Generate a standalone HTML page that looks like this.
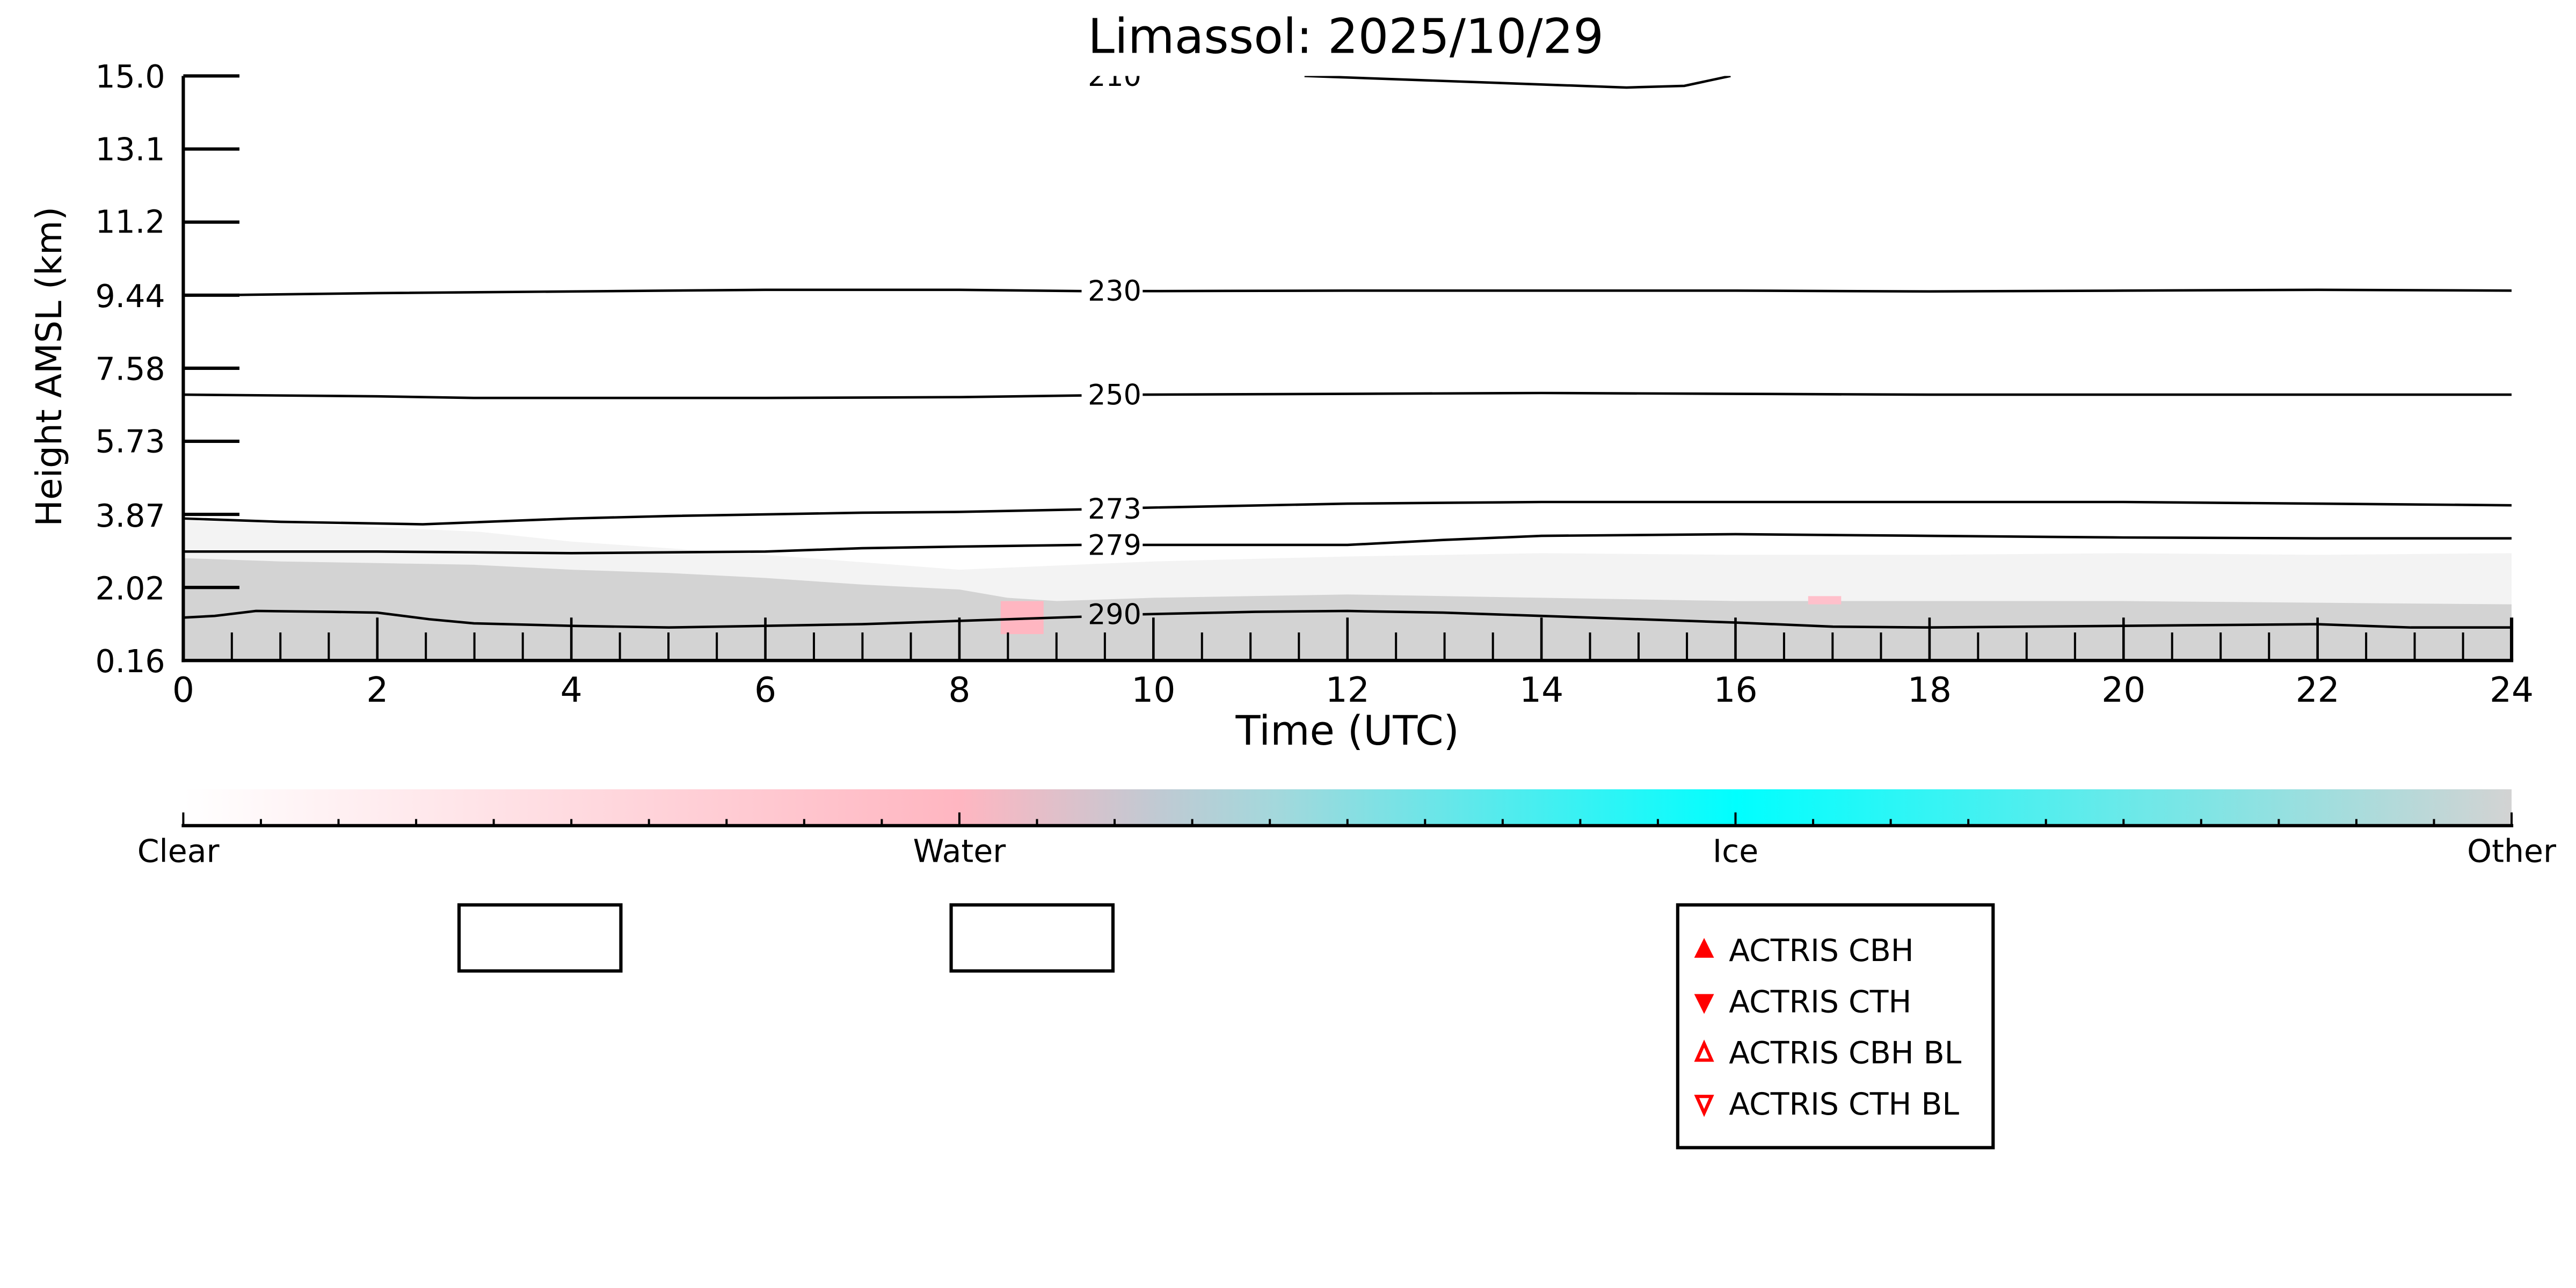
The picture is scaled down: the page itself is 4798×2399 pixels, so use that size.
<!DOCTYPE html>
<html><head><meta charset="utf-8"><style>html,body{margin:0;padding:0;background:#fff}svg{display:block}</style></head>
<body>
<svg width="4798" height="2399" viewBox="0 0 1560 780" preserveAspectRatio="none" xmlns="http://www.w3.org/2000/svg" font-family="DejaVu Sans, Liberation Sans, sans-serif">
<defs>
<linearGradient id="cb" x1="0" x2="1" y1="0" y2="0">
<stop offset="0" stop-color="#ffffff"/>
<stop offset="0.333" stop-color="#ffb6c1"/>
<stop offset="0.42" stop-color="#bfcad3"/>
<stop offset="0.47" stop-color="#a3d8dc"/>
<stop offset="0.667" stop-color="#00ffff"/>
<stop offset="1" stop-color="#d3d3d3"/>
</linearGradient>
<clipPath id="pc"><rect x="111" y="46" width="1410" height="354"/></clipPath>
</defs>
<text x="815" y="32" font-size="29" text-anchor="middle">Limassol: 2025/10/29</text>
<g clip-path="url(#pc)">
<polygon fill="#f3f3f3" points="111,315 200,318 290,322 346,328 463.5,336 581,345 698.5,340 816,337 933.5,335 1051,336 1168.5,336 1286,335 1403.5,336 1521,335 1521,400 111,400"/>
<polygon fill="#d3d3d3" points="111,338 170,340 228.5,341 287,342 346,345 405,347 463.5,350 522,354 581,357 610,362 640,364 698.5,362 816,360 933.5,362 1051,364 1168.5,364 1286,364 1403.5,365 1521,366 1521,400 111,400"/>
<rect x="606" y="364" width="26" height="20" fill="#ffb6c1"/>
<rect x="1095" y="361" width="20" height="5" fill="#ffc0cb"/>
<g fill="none" stroke="#000" stroke-width="1.5">
<polyline points="111,179 228.5,177.5 463.5,175.5 581,175.5 655,176.3"/>
<polyline points="692,176.3 816,176 1051,176 1168.5,176.5 1286,176 1403.5,175.5 1521,176"/>
<polyline points="111,239 228.5,240 287,241 463.5,241 581,240.5 655,239.5"/>
<polyline points="692,239 816,238.5 933.5,238 1051,238.5 1168.5,239 1521,239"/>
<polyline points="111,314 170,316 256,317.5 346,314 405,312.5 522,310.5 581,310 655,308.5"/>
<polyline points="692,307.5 816,305 933.5,304 1051,304 1168.5,304 1286,304 1403.5,305 1521,306"/>
<polyline points="111,334 228.5,334 346,335 463.5,334 522,332 581,331 655,330"/>
<polyline points="692,330 816,330 874,327 933.5,324.5 1051,323.5 1168.5,324.5 1286,325.5 1403.5,326 1521,326"/>
<polyline points="111,374 130,373 155,370 200,370.5 228.5,371 260,375 287,377.5 346,379 405,380 463.5,379 522,378 581,376 655,373.5"/>
<polyline points="692,372 760,370.5 816,370 874,371 933.5,373 1051,377 1110,379.5 1168.5,380 1286,379 1403.5,378 1460,380 1521,380"/>
<polyline points="790,46 985,53 1020,52 1048,46"/>
</g>
<text x="675" y="52" font-size="17" text-anchor="middle">210</text>
</g>
<g font-size="17" text-anchor="middle">
<text x="675" y="182">230</text>
<text x="675" y="245">250</text>
<text x="675" y="314">273</text>
<text x="675" y="336">279</text>
<text x="675" y="378">290</text>
</g>
<g stroke="#000" stroke-width="2" fill="none">
<line x1="111" y1="46" x2="111" y2="401"/>
<line x1="110" y1="400" x2="1522" y2="400"/>
<line x1="1521" y1="374" x2="1521" y2="400"/>
<line x1="111" y1="46" x2="145" y2="46"/><line x1="111" y1="90.25" x2="145" y2="90.25"/>
<line x1="111" y1="134.5" x2="145" y2="134.5"/><line x1="111" y1="178.75" x2="145" y2="178.75"/>
<line x1="111" y1="223" x2="145" y2="223"/><line x1="111" y1="267.25" x2="145" y2="267.25"/>
<line x1="111" y1="311.5" x2="145" y2="311.5"/><line x1="111" y1="355.75" x2="145" y2="355.75"/>
</g>
<g stroke="#000" stroke-width="1.5">
<line x1="228.5" y1="374" x2="228.5" y2="400"/><line x1="346" y1="374" x2="346" y2="400"/><line x1="463.5" y1="374" x2="463.5" y2="400"/><line x1="581" y1="374" x2="581" y2="400"/><line x1="698.5" y1="374" x2="698.5" y2="400"/><line x1="816" y1="374" x2="816" y2="400"/><line x1="933.5" y1="374" x2="933.5" y2="400"/><line x1="1051" y1="374" x2="1051" y2="400"/><line x1="1168.5" y1="374" x2="1168.5" y2="400"/><line x1="1286" y1="374" x2="1286" y2="400"/><line x1="1403.5" y1="374" x2="1403.5" y2="400"/>
</g>
<g stroke="#000" stroke-width="1.3">
<path d="M140.4,383V400M169.8,383V400M199.1,383V400M257.9,383V400M287.3,383V400M316.6,383V400M375.4,383V400M404.8,383V400M434.1,383V400M492.9,383V400M522.3,383V400M551.6,383V400M610.4,383V400M639.8,383V400M669.1,383V400M727.9,383V400M757.3,383V400M786.6,383V400M845.4,383V400M874.8,383V400M904.1,383V400M962.9,383V400M992.3,383V400M1021.6,383V400M1080.4,383V400M1109.8,383V400M1139.1,383V400M1197.9,383V400M1227.3,383V400M1256.6,383V400M1315.4,383V400M1344.8,383V400M1374.1,383V400M1432.9,383V400M1462.3,383V400M1491.6,383V400"/>
</g>
<g font-size="19" text-anchor="end">
<text x="100" y="53">15.0</text><text x="100" y="97">13.1</text><text x="100" y="141">11.2</text><text x="100" y="186">9.44</text><text x="100" y="230">7.58</text><text x="100" y="274">5.73</text><text x="100" y="319">3.87</text><text x="100" y="363">2.02</text><text x="100" y="407">0.16</text>
</g>
<g font-size="21" text-anchor="middle">
<text x="111" y="425">0</text><text x="228.5" y="425">2</text><text x="346" y="425">4</text><text x="463.5" y="425">6</text><text x="581" y="425">8</text><text x="698.5" y="425">10</text><text x="816" y="425">12</text><text x="933.5" y="425">14</text><text x="1051" y="425">16</text><text x="1168.5" y="425">18</text><text x="1286" y="425">20</text><text x="1403.5" y="425">22</text><text x="1521" y="425">24</text>
</g>
<text x="816" y="451" font-size="24.5" text-anchor="middle">Time (UTC)</text>
<text transform="translate(37,222) rotate(-90)" font-size="21.5" text-anchor="middle">Height AMSL (km)</text>
<rect x="111" y="478" width="1410" height="22" fill="url(#cb)"/>
<line x1="110" y1="500" x2="1522" y2="500" stroke="#000" stroke-width="2"/>
<g stroke="#000" stroke-width="1.3">
<path d="M111,492V500M581,492V500M1051,492V500M1521,492V500"/>
<path d="M158,496V500M205,496V500M252,496V500M299,496V500M346,496V500M393,496V500M440,496V500M487,496V500M534,496V500M628,496V500M675,496V500M722,496V500M769,496V500M816,496V500M863,496V500M910,496V500M957,496V500M1004,496V500M1098,496V500M1145,496V500M1192,496V500M1239,496V500M1286,496V500M1333,496V500M1380,496V500M1427,496V500M1474,496V500"/>
</g>
<g font-size="19" text-anchor="middle">
<text x="108" y="522">Clear</text><text x="581" y="522">Water</text><text x="1051" y="522">Ice</text><text x="1521" y="522">Other</text>
</g>
<g fill="none" stroke="#000" stroke-width="2">
<rect x="278" y="548" width="98" height="40"/>
<rect x="576" y="548" width="98" height="40"/>
<rect x="1016" y="548" width="191" height="147"/>
</g>
<polygon points="1032,568 1026,580 1038,580" fill="#f00"/>
<polygon points="1026,602 1038,602 1032,614" fill="#f00"/>
<polygon points="1032,632 1027.5,642 1036.5,642" fill="none" stroke="#f00" stroke-width="2"/>
<polygon points="1027.5,664 1036.5,664 1032,674" fill="none" stroke="#f00" stroke-width="2"/>
<g font-size="18.5">
<text x="1047" y="582">ACTRIS CBH</text><text x="1047" y="613">ACTRIS CTH</text><text x="1047" y="644">ACTRIS CBH BL</text><text x="1047" y="675">ACTRIS CTH BL</text>
</g>
</svg>
</body></html>
